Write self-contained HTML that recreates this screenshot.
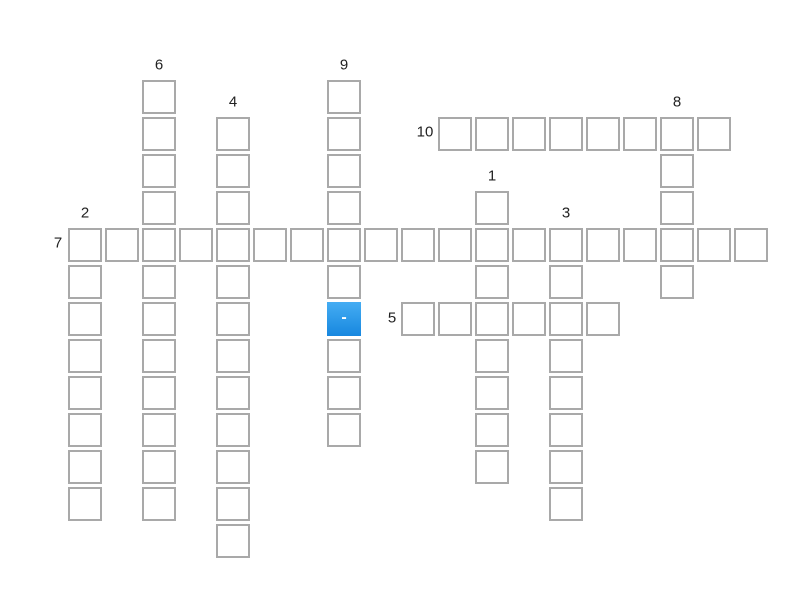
<!DOCTYPE html>
<html><head><meta charset="utf-8"><style>
body{margin:0;width:800px;height:600px;background:#fff;position:relative;overflow:hidden;font-family:"Liberation Sans",sans-serif}
.c{position:absolute;width:30px;height:30px;border:2px solid #a9a9a9;background:#fff}
.b{position:absolute;width:34px;height:34px;background:linear-gradient(#45adf3,#1787df);color:#fff;font-size:16px;font-weight:bold;text-align:center;line-height:32px}
.l{position:absolute;font-size:15px;color:#222;transform:translate(-50%,-50%)}
</style></head><body>
<div id="g"></div>
<div class="b" style="left:327px;top:302px">-</div>
<div class="l" style="left:159px;top:65px">6</div>
<div class="l" style="left:233px;top:102px">4</div>
<div class="l" style="left:344px;top:65px">9</div>
<div class="l" style="left:677px;top:102px">8</div>
<div class="l" style="left:425px;top:132px">10</div>
<div class="l" style="left:492px;top:176px">1</div>
<div class="l" style="left:85px;top:213px">2</div>
<div class="l" style="left:566px;top:213px">3</div>
<div class="l" style="left:58px;top:243px">7</div>
<div class="l" style="left:392px;top:318px">5</div>
<script>
var s=new Set();
function add(c,r){if(!(c==7&&r==6))s.add(c+','+r);}
for(var c=0;c<=18;c++)add(c,4);
for(var r=4;r<=11;r++)add(0,r);
for(var r=0;r<=11;r++)add(2,r);
for(var r=1;r<=12;r++)add(4,r);
for(var r=0;r<=9;r++)add(7,r);
for(var c=10;c<=17;c++)add(c,1);
for(var r=1;r<=5;r++)add(16,r);
for(var r=3;r<=10;r++)add(11,r);
for(var r=4;r<=11;r++)add(13,r);
for(var c=9;c<=14;c++)add(c,6);
var h='';s.forEach(function(k){var p=k.split(',');h+='<div class="c" style="left:'+(68+37*p[0])+'px;top:'+(80+37*p[1])+'px"></div>';});
document.getElementById('g').innerHTML=h;
</script>
</body></html>
